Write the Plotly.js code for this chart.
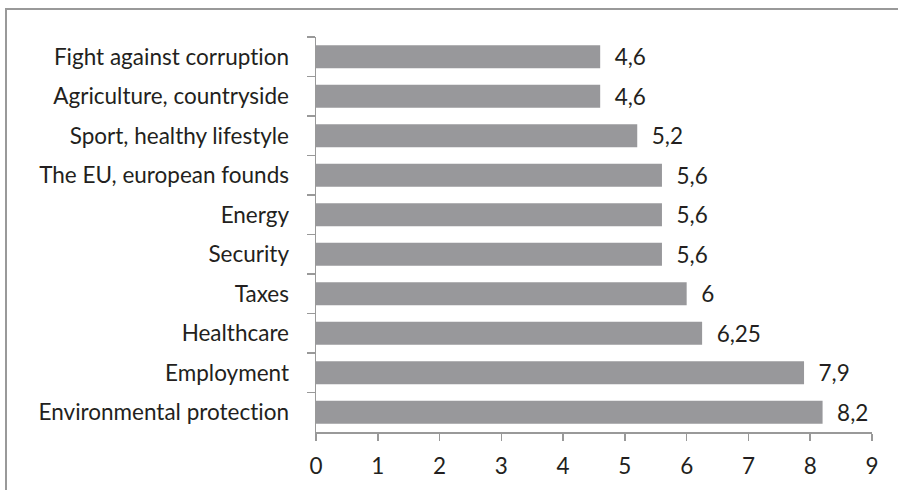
<!DOCTYPE html>
<html>
<head>
<meta charset="utf-8">
<script src="https://cdn.plot.ly/plotly-3.0.1.min.js"></script>
<style>
  html, body { margin: 0; padding: 0; background: #fff; }
  #wrap { position: relative; width: 898px; height: 490px; }
  #chart { width: 898px; height: 490px; }
  #chart text { font-variant-ligatures: none; font-feature-settings: "liga" 0, "clig" 0; }
  #frame { position: absolute; left: 5px; top: 8px; right: 0; bottom: 0;
           border-left: 2px solid #999; border-top: 2px solid #999; pointer-events: none; }
</style>
</head>
<body>
<div id="wrap">
  <div id="chart"></div>
  <div id="frame"></div>
</div>
<script>
// Categories listed top to bottom as in the chart
const categories = [
  "Fight against corruption",
  "Agriculture, countryside",
  "Sport, healthy lifestyle",
  "The EU, european founds",
  "Energy",
  "Security",
  "Taxes",
  "Healthcare",
  "Employment",
  "Environmental protection"
];
const values = [4.6, 4.6, 5.2, 5.6, 5.6, 5.6, 6, 6.25, 7.9, 8.2];
const xTicks = [0, 1, 2, 3, 4, 5, 6, 7, 8, 9];

const labels = values.map(v => "  " + String(v).replace(".", ","));

const font = "Lato, sans-serif";
const textColor = "#231f20";
const fs = 22.5;

Plotly.newPlot("chart", [{
  type: "bar",
  orientation: "h",
  x: values,
  y: categories,
  text: labels,
  textposition: "outside",
  constraintext: "none",
  cliponaxis: false,
  textfont: { family: font, size: fs, color: textColor },
  marker: { color: "#98989b" },
  hoverinfo: "skip"
}], {
  width: 898,
  height: 490,
  margin: { l: 316, r: 26, t: 37, b: 58 },
  paper_bgcolor: "rgba(0,0,0,0)",
  plot_bgcolor: "rgba(0,0,0,0)",
  bargap: 0.42,
  showlegend: false,
  font: { family: font, size: fs, color: textColor },
  xaxis: {
    range: [0, 9],
    tickvals: xTicks,
    ticktext: xTicks.map(String),
    showgrid: false,
    zeroline: false,
    showline: true,
    linecolor: "#999999",
    linewidth: 1.5,
    ticks: "outside",
    ticklen: 7,
    tickcolor: "#999999",
    tickwidth: 1.5,
    ticklabelstandoff: 6,
    tickfont: { family: font, size: fs, color: textColor },
    fixedrange: true
  },
  yaxis: {
    type: "category",
    autorange: "reversed",
    showgrid: false,
    zeroline: false,
    showline: true,
    linecolor: "#999999",
    linewidth: 1.5,
    ticks: "outside",
    tickson: "boundaries",
    ticklen: 8,
    tickcolor: "#999999",
    tickwidth: 1.5,
    ticklabelstandoff: 21,
    tickfont: { family: font, size: fs, color: textColor },
    fixedrange: true
  }
}, { displayModeBar: false, staticPlot: true });
</script>
</body>
</html>
